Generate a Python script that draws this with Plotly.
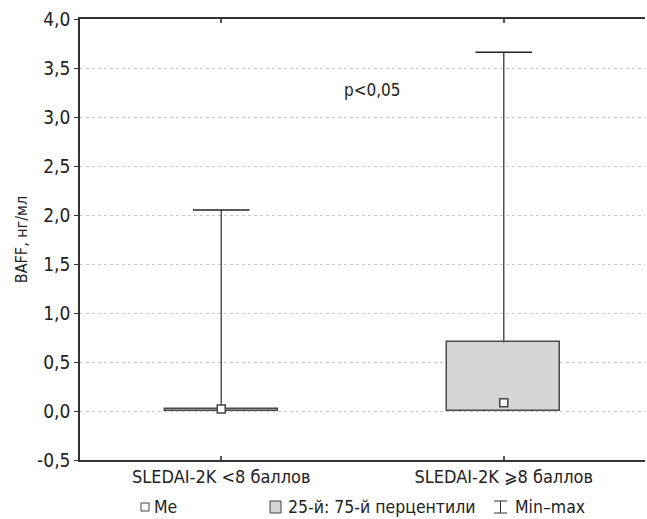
import plotly.graph_objects as go

# ---- data ----
categories = ["SLEDAI-2K <8 баллов", "SLEDAI-2K \u2a7e8 баллов"]
medians = [0.02, 0.085]
q1 = [0.0, 0.005]
q3 = [0.02, 0.70]
mins = [0.0, 0.0]
maxs = [2.05, 3.66]
y_ticks = [-0.5, 0.0, 0.5, 1.0, 1.5, 2.0, 2.5, 3.0, 3.5, 4.0]
y_ticktext = [f"{v:.1f}".replace(".", ",") for v in y_ticks]

FONT = "DejaVu Sans Condensed, Liberation Sans Narrow, Roboto, sans-serif"
xpos = list(range(len(categories)))
cap_half = 0.1

fig = go.Figure()

# IQR boxes
fig.add_trace(go.Bar(
    x=xpos, y=[b - a for a, b in zip(q1, q3)], base=q1, width=0.4,
    marker=dict(color="#d4d4d4", line=dict(color="#4a4a4a", width=1.5)),
    showlegend=False, hoverinfo="skip",
))

# whiskers (q3 -> max) with caps at max
fig.add_trace(go.Scatter(
    x=xpos, y=maxs, mode="markers", marker=dict(size=1, opacity=0),
    error_y=dict(type="data", symmetric=False,
                 array=[0 for _ in maxs],
                 arrayminus=[m - b for m, b in zip(maxs, q3)],
                 color="#555555", thickness=1.5, width=0),
    error_x=dict(type="constant", value=cap_half, color="#222222",
                 thickness=1.5, width=0),
    showlegend=False, hoverinfo="skip",
))

# medians
fig.add_trace(go.Scatter(
    x=xpos, y=medians, mode="markers",
    marker=dict(symbol="square", size=8, color="white",
                line=dict(color="#444444", width=1.5)),
    showlegend=False, hoverinfo="skip",
))

# p-value annotation
fig.add_annotation(x=0.537, y=3.28, xref="x", yref="y", text="p<0,05",
                   showarrow=False, font=dict(family=FONT, size=17, color="#222"))

# ---- legend (drawn manually) ----
L, R, T, B = 80, 645, 19, 460
def px(v):
    return (v - L) / (R - L)
def py(v):
    return (B - v) / (B - T)

ly = 507
LFS = 17.5
# Me square
fig.add_shape(type="rect", xref="paper", yref="paper",
              x0=px(141), x1=px(149), y0=py(ly + 4), y1=py(ly - 4),
              line=dict(color="#444", width=1), fillcolor="white")
fig.add_annotation(xref="paper", yref="paper", x=px(152), y=py(ly), text="Me",
                   xanchor="left", yanchor="middle", showarrow=False,
                   font=dict(family=FONT, size=LFS, color="#222"))
# IQR square
fig.add_shape(type="rect", xref="paper", yref="paper",
              x0=px(270), x1=px(281), y0=py(ly + 6), y1=py(ly - 6),
              line=dict(color="#444", width=1), fillcolor="#d4d4d4")
fig.add_annotation(xref="paper", yref="paper", x=px(286), y=py(ly),
                   text="25-й: 75-й перцентили",
                   xanchor="left", yanchor="middle", showarrow=False,
                   font=dict(family=FONT, size=LFS, color="#222"))
# min-max symbol
for x0, x1, y0, y1 in [(494, 507, ly - 6, ly - 6), (494, 507, ly + 6, ly + 6),
                       (500.5, 500.5, ly - 6, ly + 6)]:
    fig.add_shape(type="line", xref="paper", yref="paper",
                  x0=px(x0), x1=px(x1), y0=py(y0), y1=py(y1),
                  line=dict(color="#333", width=1))
fig.add_annotation(xref="paper", yref="paper", x=px(513), y=py(ly),
                   text="Min\u2013max",
                   xanchor="left", yanchor="middle", showarrow=False,
                   font=dict(family=FONT, size=LFS, color="#222"))

fig.update_layout(
    width=647, height=519,
    margin=dict(l=L, r=647 - R, t=T, b=519 - B),
    paper_bgcolor="white", plot_bgcolor="white",
    font=dict(family=FONT, size=17, color="#222"),
    xaxis=dict(range=[-0.5, 1.5], tickvals=xpos, ticktext=categories,
               automargin=False,
               showgrid=False, zeroline=False,
               showline=True, linecolor="#333", linewidth=1.5, mirror="ticks",
               ticks="inside", ticklen=4, tickcolor="#555", tickwidth=1.5,
               tickfont=dict(family=FONT, size=18, color="#222")),
    yaxis=dict(range=[-0.5, 4.0], tickvals=y_ticks, ticktext=y_ticktext,
               automargin=False,
               showgrid=True, gridcolor="#c8c8c8", griddash="dot", gridwidth=1,
               zeroline=False,
               showline=True, linecolor="#333", linewidth=1.5, mirror=False,
               ticks="outside", ticklen=4, tickcolor="#333",
               tickfont=dict(family=FONT, size=19, color="#222"),
               title=dict(text="BAFF, нг/мл", standoff=6,
                          font=dict(family=FONT, size=16, color="#222"))),
    yaxis2=dict(range=[-0.5, 4.0], tickvals=y_ticks, overlaying="y", side="right",
                automargin=False,
                showgrid=False, zeroline=False, showline=False,
                showticklabels=False, ticks="inside", ticklen=3, tickcolor="#777"),
    bargap=0,
)

fig.write_html("out.html",
               config={"displayModeBar": False},
               post_script="document.body.style.margin='0px';"
                           "document.body.style.overflow='hidden';")
